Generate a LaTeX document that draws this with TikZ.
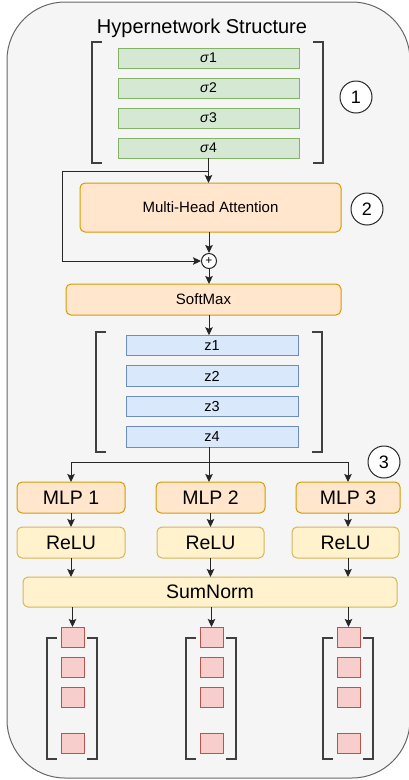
\documentclass[tikz,border=0pt]{standalone}
\usepackage{fontspec}
\setmainfont{Liberation Sans}
\usetikzlibrary{arrows.meta, positioning, calc}

\definecolor{panelfill}{HTML}{F5F5F5}
\definecolor{panelline}{HTML}{666666}
\definecolor{sigfill}{HTML}{D5E8D4}
\definecolor{sigline}{HTML}{82B366}
\definecolor{zfill}{HTML}{DAE8FC}
\definecolor{zline}{HTML}{6C8EBF}
\definecolor{orfill}{HTML}{FFE6CC}
\definecolor{orline}{HTML}{D79B00}
\definecolor{yefill}{HTML}{FFF2CC}
\definecolor{yeline}{HTML}{D6B656}
\definecolor{wfill}{HTML}{F8CECC}
\definecolor{wline}{HTML}{B85450}

\begin{document}
\begin{tikzpicture}[x=1pt, y=-1pt, >={Stealth[length=8pt, width=7.5pt, inset=1.5pt]},
    line width=1pt,
    panel/.style={draw=panelline, fill=panelfill, rounded corners=58pt},
    sig/.style={rectangle, draw=sigline, fill=sigfill, minimum width=181pt,
      minimum height=20pt, inner sep=0pt, outer sep=0pt,
      font=\fontsize{14}{16}\selectfont},
    zvec/.style={rectangle, draw=zline, fill=zfill, minimum width=172pt,
      minimum height=20.5pt, inner sep=0pt, outer sep=0pt,
      font=\fontsize{14.5}{16}\selectfont},
    block/.style={rectangle, rounded corners=5pt, draw=orline, fill=orfill,
      inner sep=0pt, outer sep=0pt, font=\fontsize{15}{17}\selectfont},
    mlp/.style={block, minimum height=31pt, font=\fontsize{19.5}{22}\selectfont},
    act/.style={mlp, draw=yeline, fill=yefill},
    wgt/.style={rectangle, draw=wline, fill=wfill, minimum width=23pt,
      minimum height=20pt, inner sep=0pt, outer sep=0pt},
    num/.style={circle, draw=black!85, fill=white, minimum size=32pt,
      inner sep=0pt, font=\fontsize{18}{20}\selectfont},
    brk/.style={draw=black!75, line width=1.1pt},
    conn/.style={draw=black!85, line width=0.9pt}]

  \useasboundingbox (0,0) rectangle (408,780);
  \draw[panel] (7,2) rectangle (410,778);

  % title
  \node[font=\fontsize{20}{24}\selectfont] (title) at (202,28) {Hypernetwork Structure};

  % sigma inputs (1)
  \draw[brk] (102,42) -- (92,42) -- (92,163) -- (102,163);
  \draw[brk] (313,42) -- (323,42) -- (323,163) -- (313,163);
  \node[sig] (s1) at (208.5,58) {\textit{σ}1};
  \node[sig, below=10pt of s1] (s2) {\textit{σ}2};
  \node[sig, below=10pt of s2] (s3) {\textit{σ}3};
  \node[sig, below=10pt of s3] (s4) {\textit{σ}4};
  \node[num] (c1) at (356,97) {1};

  % attention with skip (2)
  \node[block, minimum width=261pt, minimum height=49pt] (mha) at (210.5,207.5)
    {Multi-Head Attention};
  \node[num] (c2) at (367,209) {2};
  \node[circle, draw=black!85, fill=white, minimum size=15pt, inner sep=0pt,
    font=\fontsize{12}{12}\selectfont] (plus) at (209,261) {+};
  \node[block, minimum width=275pt, minimum height=31pt] (soft) at (203.5,299.5)
    {SoftMax};

  \coordinate (skip) at (62,171);
  \draw[conn, ->] (s4.south) -- (s4.south |- mha.north);
  \draw[conn, ->] (s4.south |- skip) -- (skip) |- (plus.west);
  \draw[conn, ->] (plus.north |- mha.south) -- (plus.north);
  \draw[conn, ->] (plus.south) -- (plus.south |- soft.north);

  % z vectors
  \draw[brk] (106,332) -- (96,332) -- (96,452) -- (106,452);
  \draw[brk] (312,332) -- (322,332) -- (322,452) -- (312,452);
  \node[zvec] (z1) at (212,345.5) {z1};
  \node[zvec, below=10pt of z1] (z2) {z2};
  \node[zvec, below=10pt of z2] (z3) {z3};
  \node[zvec, below=10pt of z3] (z4) {z4};
  \draw[conn, ->] (soft.south -| plus.south) -- (plus.south |- z1.north);

  % heads (3)
  \node[num] (c3) at (384,462) {3};
  \node[mlp, minimum width=108pt] (mlp1) at (71,497.5) {MLP 1};
  \node[mlp, minimum width=109pt] (mlp2) at (210.5,497.5) {MLP 2};
  \node[mlp, minimum width=104pt] (mlp3) at (348,497.5) {MLP 3};
  \node[act, minimum width=108pt, below=14pt of mlp1] (relu1) {ReLU};
  \node[act, minimum width=107pt, below=14pt of mlp2] (relu2) {ReLU};
  \node[act, minimum width=107pt] (relu3) at (345.5,542.5) {ReLU};
  \node[act, minimum width=374pt, minimum height=30pt] (sum) at (210,592) {SumNorm};

  \coordinate (split) at (209,462);
  \draw[conn] (z4.south -| split) -- (split);
  \draw[conn, ->] (split) -| (mlp1.north);
  \draw[conn, ->] (split) -- (split |- mlp2.north);
  \draw[conn, ->] (split) -| (mlp3.north);
  \draw[conn, ->] (mlp1) -- (relu1);
  \draw[conn, ->] (mlp2) -- (relu2);
  \draw[conn, ->] (mlp3.south) -- (mlp3.south |- relu3.north);
  \draw[conn, ->] (relu1.south) -- (relu1.south |- sum.north);
  \draw[conn, ->] (mlp2.south |- relu2.south) -- (mlp2.south |- sum.north);
  \draw[conn, ->] (mlp3.south |- relu3.south) -- (mlp3.south |- sum.north);

  % output weights
  \draw[brk] (57,638) -- (47,638) -- (47,759) -- (57,759);
  \draw[brk] (87,638) -- (97,638) -- (97,759) -- (87,759);
  \draw[brk] (196,638) -- (186,638) -- (186,759) -- (196,759);
  \draw[brk] (226,638) -- (236,638) -- (236,759) -- (226,759);
  \draw[brk] (333,638) -- (323,638) -- (323,759) -- (333,759);
  \draw[brk] (363,638) -- (373,638) -- (373,759) -- (363,759);

  \node[wgt] (q11) at (72.5,637) {};
  \node[wgt, below=10pt of q11] (q12) {};
  \node[wgt, below=10pt of q12] (q13) {};
  \node[wgt, below=26pt of q13] (q14) {};
  \node[wgt] (q21) at (211.5,637) {};
  \node[wgt, below=10pt of q21] (q22) {};
  \node[wgt, below=10pt of q22] (q23) {};
  \node[wgt, below=26pt of q23] (q24) {};
  \node[wgt] (q31) at (348.5,637) {};
  \node[wgt, below=10pt of q31] (q32) {};
  \node[wgt, below=10pt of q32] (q33) {};
  \node[wgt, below=26pt of q33] (q34) {};

  \draw[conn, ->] (sum.south -| q11.north) -- (q11.north);
  \draw[conn, ->] (sum.south -| q21.north) -- (q21.north);
  \draw[conn, ->] (sum.south -| q31.north) -- (q31.north);

\end{tikzpicture}
\end{document}
